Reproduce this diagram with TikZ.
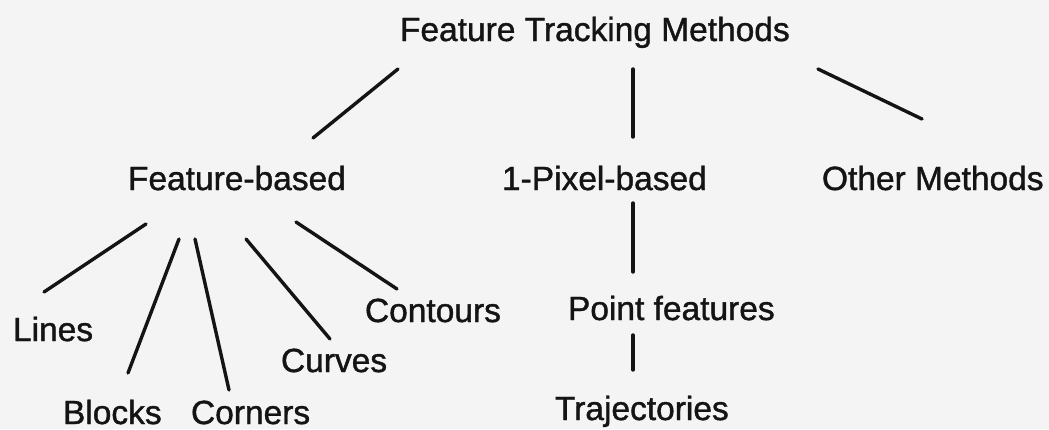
\documentclass[tikz,border=0pt]{standalone}
\usepackage{fontspec}
\setmainfont{Liberation Sans}[FakeBold=1.2]
\definecolor{bgcol}{RGB}{244,244,244}
\definecolor{ink}{RGB}{20,20,20}
\begin{document}
\begin{tikzpicture}[x=1pt,y=-1pt,
  lbl/.style={anchor=base west,inner sep=0pt,outer sep=0pt,font=\fontsize{33.5}{40}\selectfont,text=ink},
  link/.style={line width=3.4pt,line cap=round,draw=ink}]
\fill[bgcol] (0,0) rectangle (1049,429);
\useasboundingbox (0,0) rectangle (1049,429);
% labels
\node[lbl] (ftm) at (400,41) {Feature Tracking Methods};
\node[lbl] (fb)  at (128,190) {Feature-based};
\node[lbl] (pb)  at (502,190) {1-Pixel-based};
\node[lbl] (om)  at (822,190) {Other Methods};
\node[lbl] (li)  at (13,341) {Lines};
\node[lbl] (bl)  at (63,424) {Blocks};
\node[lbl] (co)  at (191,424) {Corners};
\node[lbl] (cu)  at (281,372) {Curves};
\node[lbl] (ct)  at (365,322) {Contours};
\node[lbl] (pf)  at (568,320) {Point features};
\node[lbl] (tr)  at (555,420) {Trajectories};
% connector end points
\coordinate (a1) at (398,69);  \coordinate (b1) at (313,138);
\coordinate (a2) at (633,69);  \coordinate (b2) at (633,137);
\coordinate (a3) at (818,69);  \coordinate (b3) at (922,119);
\coordinate (a4) at (146,224); \coordinate (b4) at (44,292);
\coordinate (a5) at (179,239); \coordinate (b5) at (128,373);
\coordinate (a6) at (195,239); \coordinate (b6) at (229,390);
\coordinate (a7) at (246,239); \coordinate (b7) at (330,339);
\coordinate (a8) at (296,222); \coordinate (b8) at (397,289);
\coordinate (a9) at (633,203); \coordinate (b9) at (633,272);
\coordinate (a10) at (633,335); \coordinate (b10) at (633,370);
\foreach \i in {1,...,10} \draw[link] (a\i) -- (b\i);
\end{tikzpicture}
\end{document}
